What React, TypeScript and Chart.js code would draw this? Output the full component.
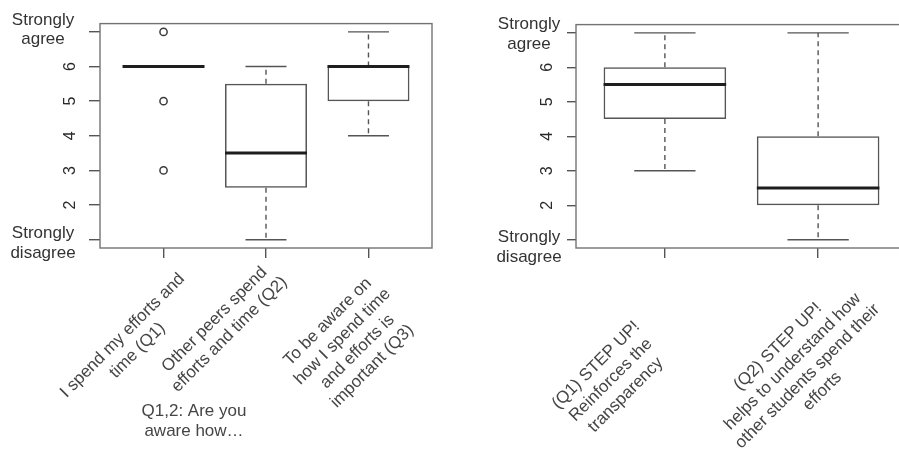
import React, { useEffect, useRef } from "react";
import { Chart, registerables } from "chart.js";

Chart.register(...registerables);

// ---------- data ----------
const leftCategories: string[][] = [
  ["I spend my efforts and", "time (Q1)"],
  ["Other peers spend", "efforts and time (Q2)"],
  ["To be aware on", "how I spend time", "and efforts is", "important (Q3)"],
];
const leftPositions = [1, 2, 3];
const leftMin = [6, 1, 4];
const leftQ1 = [6, 2.5, 5];
const leftMedian = [6, 3.5, 6];
const leftQ3 = [6, 5.5, 6];
const leftMax = [6, 6, 7];
const leftOutliers: number[][] = [[7, 5, 3], [], []];
const leftNote = ["Q1,2: Are you", "aware how…"];

const rightCategories: string[][] = [
  ["(Q1) STEP UP!", "Reinforces the", "transparency"],
  ["(Q2) STEP UP!", "helps to understand how", "other students spend their", "efforts"],
];
const rightPositions = [1, 2];
const rightMin = [3, 1];
const rightQ1 = [4.5, 2];
const rightMedian = [5.5, 2.5];
const rightQ3 = [6, 4];
const rightMax = [7, 7];
const rightOutliers: number[][] = [[], []];

const yTickValues = [1, 2, 3, 4, 5, 6, 7];
const yTickLabels = ["", "2", "3", "4", "5", "6", ""];
const agreeLabel = ["Strongly", "agree"];
const disagreeLabel = ["Strongly", "disagree"];

// ---------- layout / style ----------
const FONT = "'Liberation Sans', Arial, sans-serif";
const TEXT = "#333333";
const LABEL = "#454545";
const BOX = "#555555";
const FRAME = "#737373";

interface Layout {
  left: number;
  width: number;
  height: number;
  area: { left: number; right: number; top: number; bottom: number };
  xMin: number;
  xMax: number;
  yTickLen: number;
  yPad: number;
  sideX: number;
  agreeOff: [number, number];
  disagreeOff: [number, number];
  labelOff: [number, number][];
  note?: { x: number; y: number };
}

const leftLayout: Layout = {
  left: 0,
  width: 450,
  height: 451,
  area: { left: 100, right: 432, top: 19, bottom: 248 },
  xMin: 0.38,
  xMax: 3.62,
  yTickLen: 11,
  yPad: 14,
  sideX: 43,
  agreeOff: [-6.8, 12.5],
  disagreeOff: [-1.8, 18.2],
  labelOff: [
    [-33.5, 95],
    [-44, 79],
    [-18.5, 96],
  ],
  note: { x: 194, y: 411 },
};

const rightLayout: Layout = {
  left: 450,
  width: 462,
  height: 451,
  area: { left: 126, right: 457, top: 21, bottom: 248 },
  xMin: 0.42,
  xMax: 2.58,
  yTickLen: 9,
  yPad: 15,
  sideX: 79,
  agreeOff: [-3.4, 16.6],
  disagreeOff: [2.4, 22.6],
  labelOff: [
    [-54, 132],
    [-18, 121],
  ],
};

interface BoxData {
  categories: string[][];
  positions: number[];
  min: number[];
  q1: number[];
  median: number[];
  q3: number[];
  max: number[];
  outliers: number[][];
  note?: string[];
}

const leftData: BoxData = {
  categories: leftCategories,
  positions: leftPositions,
  min: leftMin,
  q1: leftQ1,
  median: leftMedian,
  q3: leftQ3,
  max: leftMax,
  outliers: leftOutliers,
  note: leftNote,
};

const rightData: BoxData = {
  categories: rightCategories,
  positions: rightPositions,
  min: rightMin,
  q1: rightQ1,
  median: rightMedian,
  q3: rightQ3,
  max: rightMax,
  outliers: rightOutliers,
};

function BoxChart({ data, layout }: { data: BoxData; layout: Layout }) {
  const ref = useRef<HTMLCanvasElement | null>(null);

  useEffect(() => {
    if (!ref.current) return;
    const L = layout;
    const D = data;

    const boxPlugin = {
      id: "boxExtras",
      afterDatasetsDraw(chart: any) {
        const ctx = chart.ctx as CanvasRenderingContext2D;
        const xs = chart.scales.x;
        const ys = chart.scales.y;
        const meta = chart.getDatasetMeta(0);
        ctx.save();
        D.positions.forEach((p, i) => {
          const cx = xs.getPixelForValue(p);
          const el = meta.data[i];
          const w = el && el.width ? el.width : 0.8 * (xs.getPixelForValue(2) - xs.getPixelForValue(1));
          const yMin = ys.getPixelForValue(D.min[i]);
          const yQ1 = ys.getPixelForValue(D.q1[i]);
          const yQ3 = ys.getPixelForValue(D.q3[i]);
          const yMax = ys.getPixelForValue(D.max[i]);
          const yMed = ys.getPixelForValue(D.median[i]);
          ctx.strokeStyle = BOX;
          ctx.lineWidth = 1.4;
          // whiskers (dashed)
          ctx.setLineDash([5, 4]);
          if (D.max[i] > D.q3[i]) {
            ctx.beginPath();
            ctx.moveTo(cx, yQ3);
            ctx.lineTo(cx, yMax);
            ctx.stroke();
          }
          if (D.min[i] < D.q1[i]) {
            ctx.beginPath();
            ctx.moveTo(cx, yQ1);
            ctx.lineTo(cx, yMin);
            ctx.stroke();
          }
          ctx.setLineDash([]);
          // caps
          if (D.max[i] > D.q3[i]) {
            ctx.beginPath();
            ctx.moveTo(cx - w / 4, yMax);
            ctx.lineTo(cx + w / 4, yMax);
            ctx.stroke();
          }
          if (D.min[i] < D.q1[i]) {
            ctx.beginPath();
            ctx.moveTo(cx - w / 4, yMin);
            ctx.lineTo(cx + w / 4, yMin);
            ctx.stroke();
          }
          // median
          ctx.strokeStyle = "#1e1e1e";
          ctx.lineWidth = 3;
          ctx.beginPath();
          ctx.moveTo(cx - w / 2, yMed);
          ctx.lineTo(cx + w / 2, yMed);
          ctx.stroke();
        });

        // frame
        const a = chart.chartArea;
        ctx.strokeStyle = FRAME;
        ctx.lineWidth = 1.4;
        ctx.strokeRect(a.left, a.top, a.right - a.left, a.bottom - a.top);

        // side labels
        ctx.fillStyle = TEXT;
        ctx.font = `17px ${FONT}`;
        ctx.textAlign = "center";
        ctx.textBaseline = "alphabetic";
        const y7 = ys.getPixelForValue(yTickValues[yTickValues.length - 1]);
        const y1 = ys.getPixelForValue(yTickValues[0]);
        agreeLabel.forEach((t, j) => ctx.fillText(t, L.sideX, y7 + L.agreeOff[j]));
        disagreeLabel.forEach((t, j) => ctx.fillText(t, L.sideX, y1 + L.disagreeOff[j]));

        // rotated category labels
        ctx.fillStyle = LABEL;
        ctx.textBaseline = "middle";
        const lineH = 21;
        D.categories.forEach((lines, i) => {
          const cx = xs.getPixelForValue(D.positions[i]) + L.labelOff[i][0];
          const cy = a.bottom + L.labelOff[i][1];
          ctx.save();
          ctx.translate(cx, cy);
          ctx.rotate(-Math.PI / 4);
          lines.forEach((t, j) => {
            ctx.fillText(t, 0, (j - (lines.length - 1) / 2) * lineH);
          });
          ctx.restore();
        });

        // note
        if (D.note && L.note) {
          ctx.fillStyle = LABEL;
          D.note.forEach((t, j) => ctx.fillText(t, L.note!.x, L.note!.y + j * 20));
        }
        ctx.restore();
      },
    };

    const outlierPoints: { x: number; y: number }[] = [];
    D.outliers.forEach((arr, i) => arr.forEach((v) => outlierPoints.push({ x: D.positions[i], y: v })));

    const chart = new Chart(ref.current, {
      type: "bar",
      data: {
        datasets: [
          {
            type: "bar",
            data: D.positions.map((p, i) => ({ x: p, y: [D.q1[i], D.q3[i]] })) as any,
            backgroundColor: "rgba(0,0,0,0)",
            borderColor: BOX,
            borderWidth: 1.5,
            borderSkipped: false,
            barPercentage: 0.8,
            categoryPercentage: 1,
          } as any,
          {
            type: "scatter",
            data: outlierPoints,
            pointStyle: "circle",
            pointRadius: 3.6,
            borderColor: "#3a3a3a",
            backgroundColor: "rgba(0,0,0,0)",
            borderWidth: 1.5,
          } as any,
        ],
      },
      options: {
        animation: false,
        responsive: false,
        events: [],
        layout: {
          padding: { left: 0, top: L.area.top, right: L.width - L.area.right, bottom: 0 },
        },
        plugins: { legend: { display: false }, tooltip: { enabled: false } },
        scales: {
          x: {
            type: "linear",
            min: L.xMin,
            max: L.xMax,
            offset: false,
            afterBuildTicks: (s: any) => {
              s.ticks = D.positions.map((v) => ({ value: v }));
            },
            afterFit: (s: any) => {
              s.height = L.height - L.area.bottom;
            },
            grid: {
              offset: false,
              drawOnChartArea: false,
              drawTicks: true,
              tickLength: 10,
              color: BOX,
              lineWidth: 1.4,
            },
            border: { display: false },
            ticks: { display: false },
          },
          y: {
            type: "linear",
            min: 0.76,
            max: 7.24,
            afterBuildTicks: (s: any) => {
              s.ticks = yTickValues.map((v) => ({ value: v }));
            },
            afterFit: (s: any) => {
              s.width = L.area.left;
            },
            grid: {
              drawOnChartArea: false,
              drawTicks: true,
              tickLength: L.yTickLen,
              color: BOX,
              lineWidth: 1.4,
            },
            border: { display: false },
            ticks: {
              callback: (v: any) => {
                const idx = yTickValues.indexOf(Number(v));
                return idx >= 0 ? yTickLabels[idx] : "";
              },
              minRotation: 90,
              maxRotation: 90,
              crossAlign: "center",
              padding: L.yPad,
              color: "#2a2a2a",
              font: { family: FONT, size: 16 },
              autoSkip: false,
            },
          },
        },
      } as any,
      plugins: [boxPlugin],
    });

    return () => chart.destroy();
  }, [data, layout]);

  return (
    <canvas
      ref={ref}
      width={layout.width}
      height={layout.height}
      style={{ position: "absolute", left: layout.left, top: 0, width: layout.width, height: layout.height, display: "block" }}
    />
  );
}

export default function App() {
  return (
    <div
      style={{
        position: "absolute",
        left: 0,
        top: 0,
        width: 899,
        height: 451,
        overflow: "hidden",
        background: "#ffffff",
      }}
    >
      <BoxChart data={leftData} layout={leftLayout} />
      <BoxChart data={rightData} layout={rightLayout} />
    </div>
  );
}
